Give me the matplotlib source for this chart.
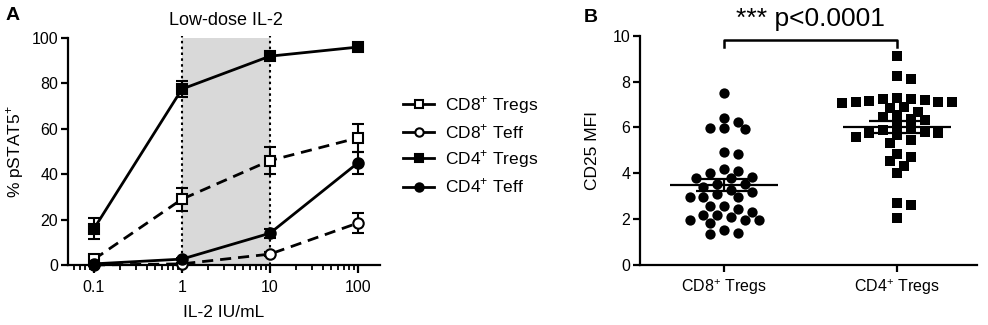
import numpy as np
import matplotlib
matplotlib.use('Agg')
import matplotlib.pyplot as plt
from matplotlib.lines import Line2D

plt.rcParams['font.family'] = ['Liberation Sans', 'DejaVu Sans']
plt.rcParams['mathtext.fontset'] = 'custom'
plt.rcParams['mathtext.rm'] = 'Liberation Sans'
plt.rcParams['axes.linewidth'] = 1.6

# Panel A: % pSTAT5+ vs IL-2 dose (mean, error)
doses = [0.1, 1, 10, 100]
cd8_tregs = [2.5, 29, 46, 56]
cd8_tregs_err = [1, 5, 6, 6]
cd8_teff = [0, 0.5, 4.8, 18.5]
cd8_teff_err = [0.5, 0.5, 1, 4.5]
cd4_tregs = [16, 77.5, 92, 96]
cd4_tregs_err = [4.7, 3.5, 1, 1]
cd4_teff = [0.5, 2.6, 14, 45]
cd4_teff_err = [0.5, 0.5, 2, 5]
low_dose = [1, 10]

# Panel B: CD25 MFI per donor
group_labels = [r'CD8$^{\mathregular{+}}$ Tregs', r'CD4$^{\mathregular{+}}$ Tregs']
cd8_mfi = [7.51, 6.42, 5.99, 5.92, 5.96, 6.22, 4.93, 4.86, 4.10, 3.85, 4.0, 4.17,
           3.78, 3.78, 3.52, 3.52, 3.27, 3.20, 3.39, 2.95, 2.95, 2.95, 3.08,
           2.57, 2.57, 2.44, 2.18, 2.11, 1.96, 1.96, 1.96, 1.85, 2.18, 2.30,
           1.53, 1.34, 1.41]
cd4_mfi = [9.13, 8.26, 8.11, 7.12, 7.09, 7.24, 6.90, 7.19, 7.27, 7.24, 7.05, 7.12,
           7.17, 6.54, 6.37, 6.69, 6.83, 6.32, 6.47, 6.10, 5.81, 5.77, 5.60, 5.92,
           5.67, 5.77, 5.89, 5.31, 5.45, 4.83, 4.53, 4.69, 4.33, 4.03, 2.69, 2.62,
           2.03]
p_text = '*** p<0.0001'

fig = plt.figure(figsize=(9.88, 3.25), dpi=100)

# ---------- Panel A ----------
ax = fig.add_axes([68 / 988, 60 / 325, 312 / 988, 227 / 325])
ax.set_xscale('log')
ax.set_xlim(0.0507, 178)
ax.set_ylim(0, 100)

ax.axvspan(low_dose[0], low_dose[1], color='#d9d9d9', zorder=0, lw=0)
for xv in low_dose:
    ax.axvline(xv, ymin=0, ymax=1.01, color='black', ls=(0, (1.2, 1.6)),
               lw=1.5, clip_on=False, zorder=1)
ax.text(np.sqrt(low_dose[0] * low_dose[1]), 104, 'Low-dose IL-2',
        ha='center', va='bottom', fontsize=13)

series = [
    (cd8_tregs, cd8_tregs_err, 's', 'white', '--'),
    (cd8_teff, cd8_teff_err, 'o', 'white', '--'),
    (cd4_tregs, cd4_tregs_err, 's', 'black', '-'),
    (cd4_teff, cd4_teff_err, 'o', 'black', '-'),
]
for vals, errs, mk, fc, ls in series:
    eb = ax.errorbar(doses, vals, yerr=errs, color='black', lw=2, ls=ls,
                     marker=mk, ms=7.5, mfc=fc, mec='black', mew=1.5,
                     capsize=4, capthick=1.5, elinewidth=1.5, zorder=3)
    for art in eb.lines[0:1] + tuple(eb.lines[1]) + tuple(eb.lines[2]):
        art.set_clip_on(False)
    if ls == '--':
        eb.lines[0].set_dashes((4, 2.5))

ax.set_yticks([0, 20, 40, 60, 80, 100])
ax.set_xticks(doses)
ax.set_xticklabels(['0.1', '1', '10', '100'])
ax.tick_params(axis='both', which='major', direction='out', length=5, width=1.6,
               labelsize=11.5, pad=2)
ax.tick_params(axis='x', which='minor', direction='out', length=3.5, width=1.3)
ax.tick_params(axis='x', which='major', length=6, pad=5)
for s in ['top', 'right']:
    ax.spines[s].set_visible(False)
ax.set_ylabel(r'% pSTAT5$^{\mathregular{+}}$', fontsize=12.5, labelpad=4)
ax.set_xlabel('IL-2 IU/mL', fontsize=12.5, labelpad=7)
fig.text(6 / 988, 1 - 16 / 325, 'A', fontsize=14, fontweight='bold', va='center')

names = [r'CD8$^{\mathregular{+}}$ Tregs', r'CD8$^{\mathregular{+}}$ Teff',
         r'CD4$^{\mathregular{+}}$ Tregs', r'CD4$^{\mathregular{+}}$ Teff']
handles = [Line2D([], [], color='black', lw=2, marker=mk, ms=6, mfc=fc,
                  mec='black', mew=1.5) for _, _, mk, fc, _ in series]
fig.legend(handles, names, loc='upper left', bbox_to_anchor=(396 / 988, 1 - 87 / 325),
           frameon=False, fontsize=12.5, handlelength=1.8, handletextpad=0.6,
           labelspacing=0.4, borderaxespad=0)

# ---------- Panel B ----------
bx = fig.add_axes([640 / 988, 60 / 325, 337 / 988, 229.3 / 325])
bx.set_xlim(-0.486, 1.462)
bx.set_ylim(0, 10)


def swarm_x(axis, xc, values, diam_px, step_px):
    """GraphPad-like column scatter: points pushed sideways in fixed steps."""
    pix = axis.transData.transform(np.column_stack([np.full(len(values), xc), values]))
    px_per_unit = axis.transData.transform([[1, 0]])[0, 0] - axis.transData.transform([[0, 0]])[0, 0]
    placed = []
    xs = np.zeros(len(values))
    for i in np.argsort(values)[::-1]:
        y = pix[i, 1]
        k = 0
        while True:
            off = ((k + 1) // 2) * (1 if k % 2 else -1) * step_px
            ok = all((off - px) ** 2 + (y - py) ** 2 >= diam_px ** 2 for px, py in placed)
            if ok:
                break
            k += 1
        placed.append((off, y))
        xs[i] = xc + off / px_per_unit
    return xs


for gi, (vals, mk) in enumerate([(cd8_mfi, 'o'), (cd4_mfi, 's')]):
    vals = np.array(vals)
    xs = swarm_x(bx, gi, vals, 9.3, 6.9)
    bx.scatter(xs, vals, marker=mk, s=55 if mk == 'o' else 50, color='black',
               linewidths=0, zorder=3)
    mean = vals.mean()
    sem = vals.std(ddof=1) / np.sqrt(len(vals))
    bx.hlines(mean, gi - 0.31, gi + 0.31, color='black', lw=1.6, zorder=4)
    bx.hlines([mean - sem, mean + sem], gi - 0.16, gi + 0.16, color='black',
              lw=1.6, zorder=4)
    bx.vlines(gi, mean - sem, mean + sem, color='black', lw=1.6, zorder=4)

bx.plot([0, 0, 1, 1], [9.5, 9.8, 9.8, 9.5], color='black', lw=1.8, clip_on=False)
bx.text(0.5, 10.75, p_text, ha='center', va='center', fontsize=19, clip_on=False)

bx.set_xticks([0, 1])
bx.set_xticklabels(group_labels)
bx.set_yticks([0, 2, 4, 6, 8, 10])
bx.tick_params(axis='both', direction='out', length=5, width=1.6, labelsize=11.5, pad=2)
bx.tick_params(axis='x', pad=4)
for s in ['top', 'right']:
    bx.spines[s].set_visible(False)
bx.set_ylabel('CD25 MFI', fontsize=12.5, labelpad=9)
fig.text(584 / 988, 1 - 18 / 325, 'B', fontsize=14, fontweight='bold', va='center')

fig.savefig('out.png', dpi=100)
